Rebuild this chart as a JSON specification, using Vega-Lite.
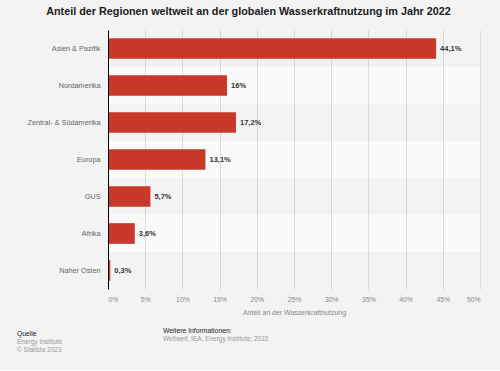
{
  "$schema": "https://vega.github.io/schema/vega-lite/v6.json",
  "background": "#f3f3f3",
  "padding": {"left": 17, "top": 6, "right": 20, "bottom": 16},
  "title": {"text": "Anteil der Regionen weltweit an der globalen Wasserkraftnutzung im Jahr 2022", "font": "Liberation Sans", "fontSize": 10.8, "fontWeight": "bold", "color": "#1a1a1a", "anchor": "middle", "offset": 13},
  "config": {
    "font": "Liberation Sans",
    "view": {"stroke": null, "fill": "#fafafa"},
    "locale": {"number": {"decimal": ",", "thousands": ".", "grouping": [3], "currency": ["", " €"]}}
  },
  "bounds": "flush",
  "spacing": 34,
  "datasets": {
    "regions": [
      {"Region": "Asien & Pazifik", "Anteil": 0.441},
      {"Region": "Nordamerika", "Anteil": 0.16},
      {"Region": "Zentral- & Südamerika", "Anteil": 0.172},
      {"Region": "Europa", "Anteil": 0.131},
      {"Region": "GUS", "Anteil": 0.057},
      {"Region": "Afrika", "Anteil": 0.036},
      {"Region": "Naher Osten", "Anteil": 0.003}
    ]
  },
  "vconcat": [
    {
      "width": 372,
      "height": 259,
      "data": {"name": "regions"},
      "encoding": {
        "y": {"field": "Region", "type": "nominal",
          "sort": ["Asien & Pazifik", "Nordamerika", "Zentral- & Südamerika", "Europa", "GUS", "Afrika", "Naher Osten"],
          "scale": {"paddingInner": 0, "paddingOuter": 0},
          "axis": {"title": null, "ticks": false, "domainColor": "#000000", "domainWidth": 1, "labelColor": "#666666", "labelFontSize": 7.3, "labelPadding": 8}},
        "x": {"field": "Anteil", "type": "quantitative",
          "scale": {"domain": [0, 0.5], "nice": false},
          "axis": {"title": "Anteil an der Wasserkraftnutzung", "values": [0, 0.05, 0.1, 0.15, 0.2, 0.25, 0.3, 0.35, 0.4, 0.45, 0.5], "format": ".0%", "labelOverlap": false, "domain": false, "ticks": false, "grid": true, "gridColor": "#dcdcdc", "gridWidth": 1, "labelColor": "#888888", "labelFontSize": 6.8, "labelPadding": 7, "titleColor": "#888888", "titleFontSize": 7, "titleFontWeight": "normal", "titlePadding": 6}}
      },
      "layer": [
        {
          "transform": [{"filter": {"field": "Region", "oneOf": ["Asien & Pazifik", "Zentral- & Südamerika", "GUS", "Naher Osten"]}}],
          "mark": {"type": "rect", "fill": "#000000", "opacity": 0.028},
          "encoding": {"x": {"value": 0}, "x2": {"value": "width"}}
        },
        {
          "mark": {"type": "bar", "color": "#c9392a", "height": {"band": 0.56}}
        },
        {
          "mark": {"type": "text", "align": "left", "baseline": "middle", "dx": 4, "fontSize": 7.5, "fontWeight": "bold", "color": "#333333"},
          "encoding": {
            "text": {"field": "Anteil", "type": "quantitative", "format": ".1~%"}
          }
        }
      ]
    },
    {
      "hconcat": [
        {
          "width": 45,
          "height": 1,
          "data": {"values": []},
          "mark": "point",
          "encoding": {},
          "title": {"text": "Quelle", "subtitle": ["Energy Institute", "© Statista 2023"], "orient": "bottom", "anchor": "start", "dx": -91, "dy": 3, "offset": 4, "fontSize": 6.8, "fontWeight": "normal", "color": "#222222", "subtitleFontSize": 6.5, "subtitleColor": "#999999", "subtitlePadding": 1.5, "subtitleLineHeight": 8}
        },
        {
          "width": 200,
          "height": 1,
          "data": {"values": []},
          "mark": "point",
          "encoding": {},
          "title": {"text": "Weitere Informationen:", "subtitle": "Weltweit; IEA; Energy Institute; 2022", "orient": "bottom", "anchor": "start", "offset": 4, "fontSize": 6.8, "fontWeight": "normal", "color": "#222222", "subtitleFontSize": 6.5, "subtitleColor": "#999999", "subtitlePadding": 1.5}
        }
      ],
      "spacing": 10,
      "bounds": "flush"
    }
  ]
}
